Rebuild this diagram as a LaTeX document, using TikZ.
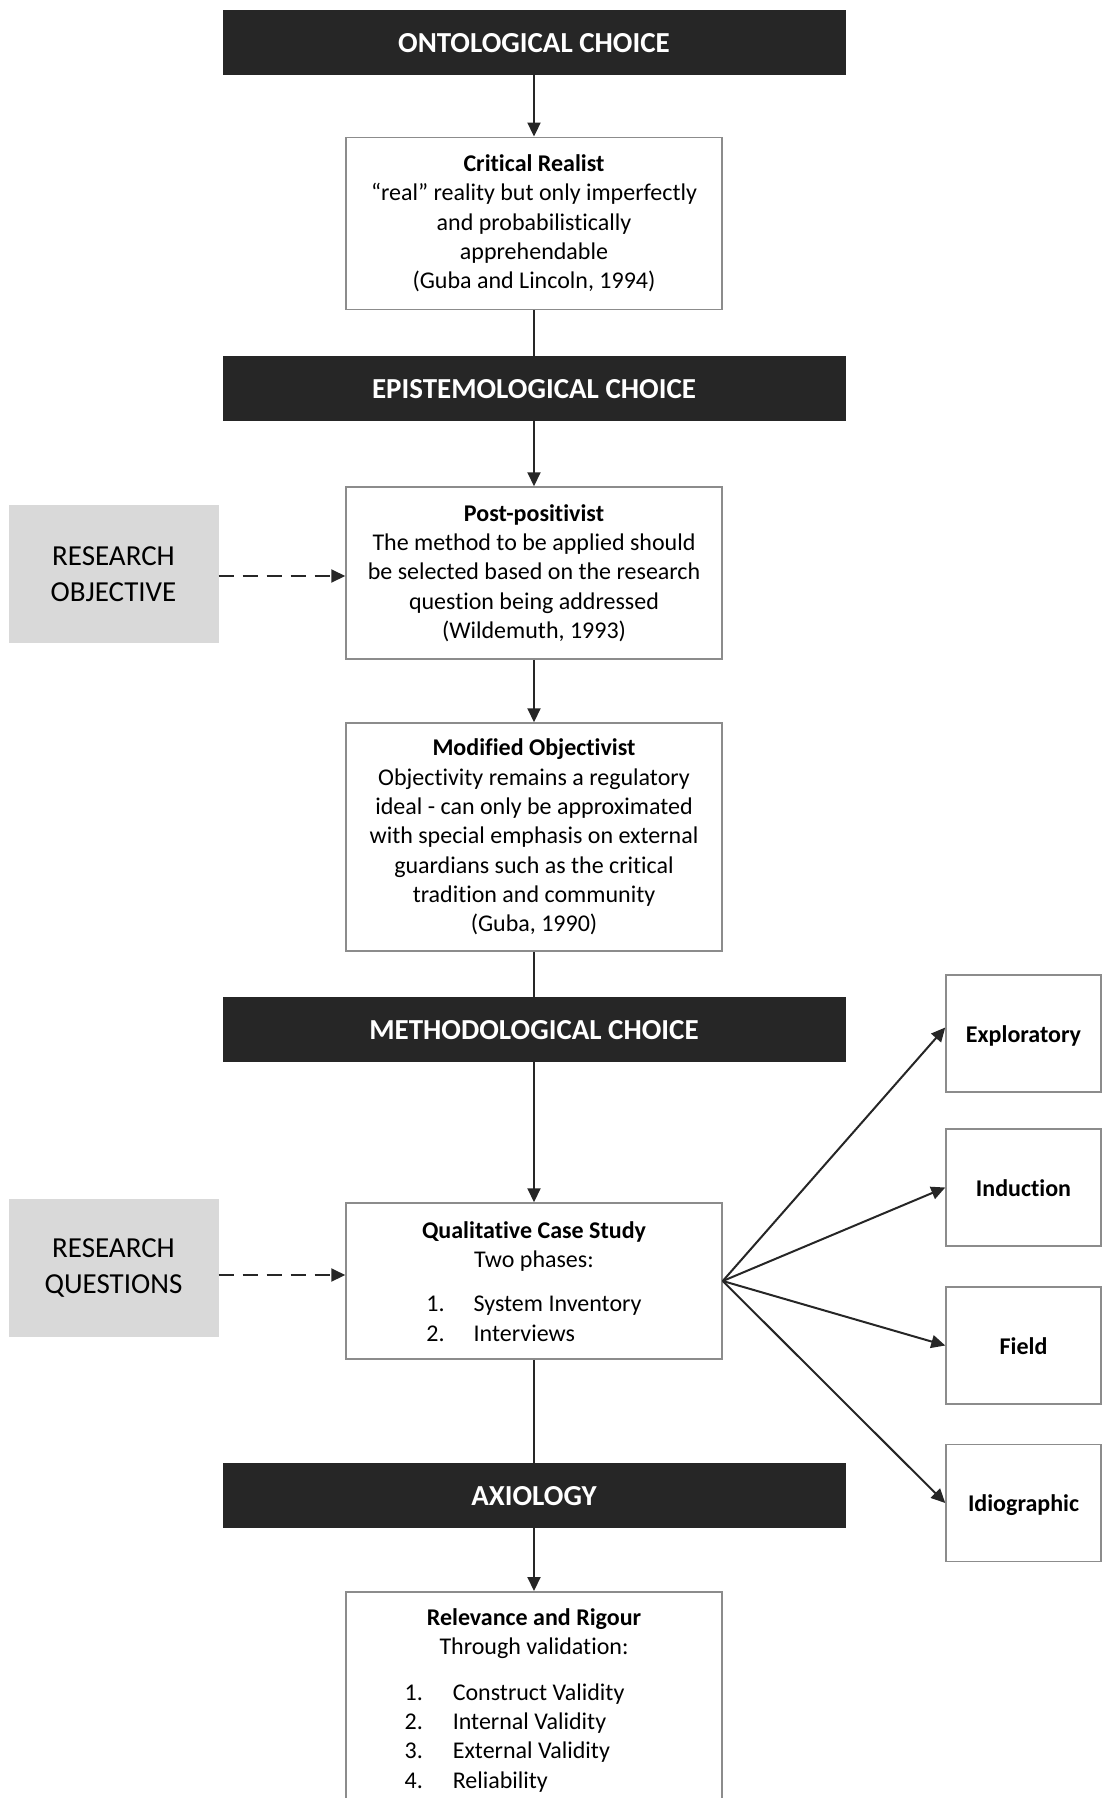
\documentclass[tikz,border=0pt]{standalone}
\usepackage{fontspec}
\setmainfont{Carlito}[Ligatures={TeX,NoCommon}]
\usetikzlibrary{arrows.meta,calc}

\definecolor{barfill}{HTML}{262626}
\definecolor{boxline}{HTML}{8C8C8C}
\definecolor{greyfill}{HTML}{D9D9D9}
\definecolor{ink}{HTML}{262626}

\newcommand\boxtextfont{\fontsize{24}{29.3}\selectfont}

\tikzset{
  bar/.style={fill=barfill, draw=none, minimum width=623pt, minimum height=65pt,
    inner sep=0pt, text height=22pt, text depth=1.2pt, text=white,
    font=\fontsize{29}{35}\selectfont\bfseries},
  infobox/.style={draw=boxline, line width=1.5pt, fill=white, minimum width=376pt,
    inner sep=0pt, align=center, font=\boxtextfont},
  plaintext/.style={inner sep=0pt, align=center, font=\boxtextfont},
  greybox/.style={fill=greyfill, draw=none, minimum width=210pt, minimum height=138pt,
    inner sep=0pt, align=center, font=\fontsize{29}{36}\selectfont},
  sidebox/.style={draw=boxline, line width=1.5pt, fill=white, minimum width=155pt,
    minimum height=117pt, inner sep=0pt, text height=18pt, text depth=1pt,
    font=\fontsize{24}{29}\selectfont\bfseries},
  flow/.style={draw=ink, line width=2pt},
  flowarrow/.style={flow, -{Triangle[length=14pt,width=13pt]}},
  dasharrow/.style={flowarrow, dash pattern=on 15pt off 9pt},
}

\begin{document}
\begin{tikzpicture}[x=1pt,y=-1pt]
  \useasboundingbox (0,0) rectangle (1102,1798);
  \clip (0,0) rectangle (1102,1798);

  % central column: choice bars and their boxes
  \node[bar] (ont) at (534,42.5) {ONTOLOGICAL CHOICE};
  \node[infobox, minimum height=172pt] (cr) at (534,223.3)
    {\textbf{Critical Realist}\\“real” reality but only imperfectly\\and probabilistically\\apprehendable\\(Guba and Lincoln, 1994)};

  \node[bar] (epi) at (534,388.5) {EPISTEMOLOGICAL CHOICE};
  \node[infobox, minimum height=172pt] (pp) at (534,573)
    {\textbf{Post-positivist}\\The method to be applied should\\be selected based on the research\\question being addressed\\(Wildemuth, 1993)};

  \node[infobox, minimum height=228pt] (mo) at (534,837)
    {\textbf{Modified Objectivist}\\Objectivity remains a regulatory\\ideal - can only be approximated\\with special emphasis on external\\guardians such as the critical\\tradition and community\\(Guba, 1990)};

  \node[bar] (meth) at (534,1029.5) {METHODOLOGICAL CHOICE};
  \node[infobox, minimum height=156pt] (qcs) at (534,1281) {};
  \node[plaintext] (qcstext) at (534,1285.6)
    {\textbf{Qualitative Case Study}\\Two phases:\\[15pt]%
     \begin{tabular}[t]{@{}l@{\hspace{29pt}}l@{}}1. & System Inventory\\2. & Interviews\end{tabular}};

  \node[bar] (ax) at (534,1495.5) {AXIOLOGY};
  \node[infobox, minimum height=280pt, anchor=north] (rr) at (534,1591) {};
  \node[plaintext] (rrtext) at (534,1702.5)
    {\textbf{Relevance and Rigour}\\Through validation:\\[16.5pt]%
     \begin{tabular}[t]{@{}l@{\hspace{30pt}}l@{}}1. & Construct Validity\\2. & Internal Validity\\3. & External Validity\\4. & Reliability\end{tabular}\kern39pt};

  % inputs on the left
  \node[greybox] (ro) at (113.5,574) {RESEARCH\\OBJECTIVE};
  \node[greybox] (rq) at (113.5,1268) {RESEARCH\\QUESTIONS};

  % case study characteristics on the right
  \node[sidebox] (expl) at (1023.5,1033.5) {Exploratory};
  \node[sidebox] (ind)  at (1023.5,1187.5) {Induction};
  \node[sidebox] (fld)  at (1023.5,1345.5) {Field};
  \node[sidebox] (idio) at (1023.5,1503)   {Idiographic};

  % main flow
  \draw[flowarrow] (ont.south) -- (cr.north);
  \draw[flow]      (cr.south) -- (epi.north);
  \draw[flowarrow] (epi.south) -- (pp.north);
  \draw[flowarrow] (pp.south) -- (mo.north);
  \draw[flow]      (mo.south) -- (meth.north);
  \draw[flowarrow] (meth.south) -- (qcs.north);
  \draw[flow]      (qcs.south) -- (ax.north);
  \draw[flowarrow] (ax.south) -- (rr.north);

  % dashed inputs
  \coordinate (roout) at ([yshift=-2pt]ro.east);
  \draw[dasharrow] (roout) -- (roout -| pp.west);
  \coordinate (rqout) at ([yshift=-7pt]rq.east);
  \draw[dasharrow] (rqout) -- (rqout -| qcs.west);

  % fan to the right
  \draw[flowarrow] (qcs.east) -- ([yshift=6pt]expl.west);
  \draw[flowarrow] (qcs.east) -- (ind.west);
  \draw[flowarrow] (qcs.east) -- (fld.west);
  \draw[flowarrow] (qcs.east) -- (idio.west);
\end{tikzpicture}
\end{document}
